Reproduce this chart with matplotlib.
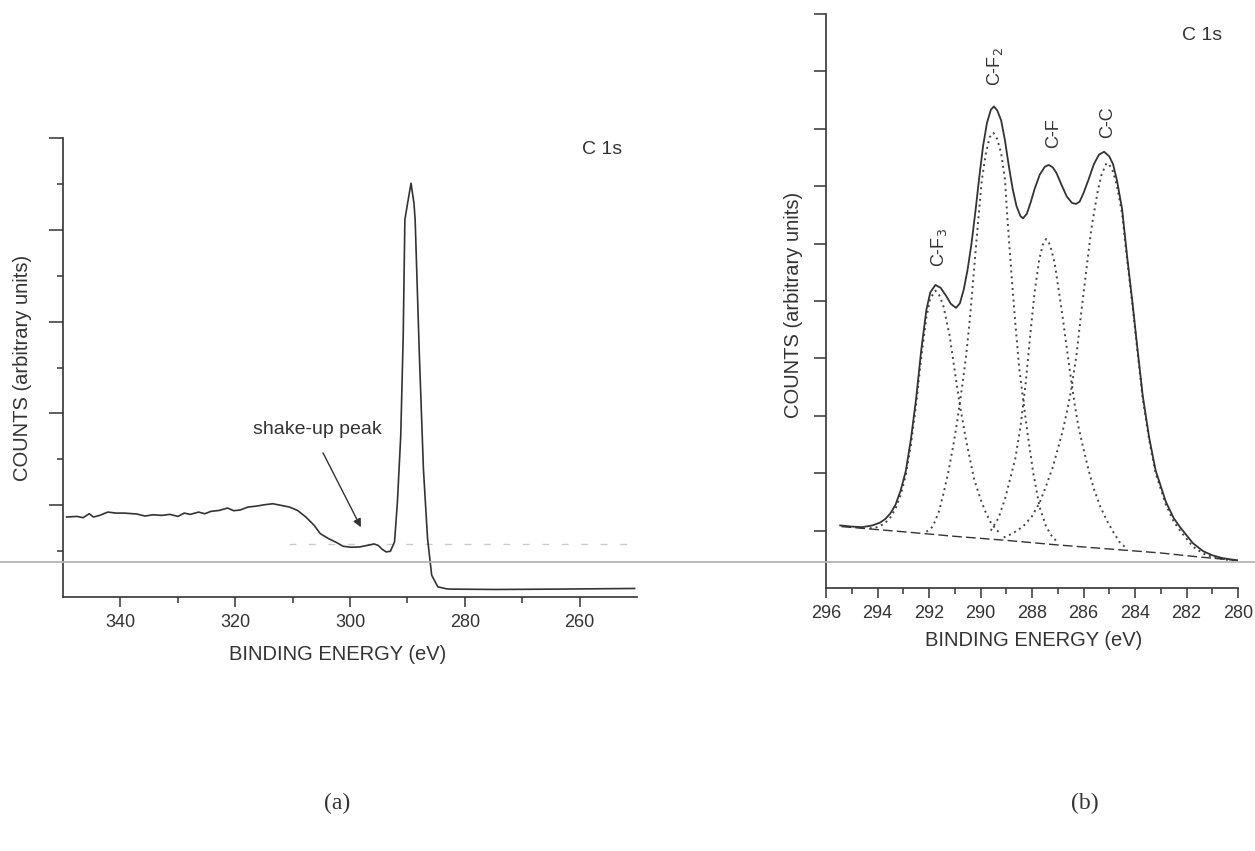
import matplotlib
matplotlib.use("Agg")
import matplotlib.pyplot as plt
from matplotlib.lines import Line2D

plt.rcParams['font.family'] = ['Liberation Sans', 'DejaVu Sans']

INK = '#333333'

# ---------------- (a) wide C 1s scan ----------------
survey_energy = [349.37, 347.57, 346.50, 345.42, 344.70, 343.62, 342.19, 340.75, 339.31,
                 337.15, 335.72, 334.28, 332.84, 331.40, 329.97, 328.89, 327.81, 326.38,
                 325.30, 324.22, 322.78, 321.35, 320.27, 319.19, 317.75, 316.31, 314.88,
                 313.44, 312.00, 310.57, 309.13, 307.69, 306.25, 305.18, 303.74, 302.30,
                 301.22, 299.79, 298.35, 296.91, 295.83, 295.11, 294.40, 293.68, 292.96,
                 292.24, 291.74, 291.16, 290.73, 290.44, 290.01, 289.37, 288.86, 288.65,
                 287.93, 287.21, 286.49, 285.77, 284.70, 283.25, 282.54, 274.63, 263.85,
                 250.41]
survey_counts = [0.871, 0.878, 0.864, 0.907, 0.871, 0.889, 0.925, 0.914, 0.914,
                 0.904, 0.882, 0.896, 0.889, 0.900, 0.878, 0.914, 0.900, 0.925,
                 0.907, 0.933, 0.943, 0.969, 0.940, 0.947, 0.980, 0.990, 1.005,
                 1.016, 0.998, 0.980, 0.943, 0.871, 0.781, 0.690, 0.636, 0.592,
                 0.553, 0.542, 0.545, 0.563, 0.578, 0.563, 0.520, 0.491, 0.498,
                 0.600, 1.034, 1.758, 2.843, 4.110, 4.273, 4.508, 4.291, 4.110,
                 2.663, 1.396, 0.636, 0.238, 0.111, 0.090, 0.086, 0.082, 0.086,
                 0.093]

# ---------------- (b) high-resolution C 1s with peak fit ----------------
env_energy = [295.45, 295.0, 294.6, 294.2, 293.9, 293.7, 293.5, 293.3, 293.1, 292.9,
              292.7, 292.5, 292.3, 292.1, 291.95, 291.75, 291.55, 291.35, 291.15, 290.95,
              290.8, 290.65, 290.5, 290.35, 290.2, 290.05, 289.9, 289.75, 289.6, 289.48,
              289.35, 289.2, 289.05, 288.9, 288.75, 288.6, 288.45, 288.35, 288.2, 288.05,
              287.9, 287.7, 287.5, 287.35, 287.2, 287.05, 286.85, 286.65, 286.45, 286.3,
              286.15, 286.0, 285.8, 285.6, 285.4, 285.2, 285.0, 284.85, 284.7, 284.5,
              284.3, 284.1, 283.9, 283.7, 283.45, 283.2, 282.8, 282.5, 282.25, 282.0,
              281.75, 281.35, 281.0, 280.6, 280.0]
env_counts = [1.09, 1.07, 1.06, 1.09, 1.14, 1.20, 1.30, 1.45, 1.70, 2.04,
              2.60, 3.30, 4.15, 4.85, 5.15, 5.28, 5.23, 5.10, 4.95, 4.88,
              4.96, 5.20, 5.55, 6.00, 6.55, 7.15, 7.70, 8.10, 8.33, 8.39,
              8.32, 8.15, 7.80, 7.35, 6.95, 6.65, 6.48, 6.44, 6.52, 6.72,
              6.95, 7.20, 7.34, 7.37, 7.33, 7.23, 7.02, 6.82, 6.71, 6.69,
              6.73, 6.88, 7.12, 7.38, 7.55, 7.60, 7.52, 7.38, 7.10, 6.60,
              5.75, 4.98, 4.15, 3.35, 2.62, 2.05, 1.50, 1.22, 1.06, 0.92,
              0.78, 0.64, 0.57, 0.52, 0.48]

bg_energy = [295.4, 293.0, 291.0, 289.0, 287.0, 285.0, 283.0, 281.5, 280.0]
bg_counts = [1.07, 0.98, 0.90, 0.83, 0.75, 0.68, 0.61, 0.54, 0.48]

cf3_energy = [294.3, 294.0, 293.7, 293.5, 293.3, 293.1, 292.9, 292.7, 292.5, 292.3,
              292.1, 291.95, 291.75, 291.6, 291.45, 291.2, 291.0, 290.8, 290.55, 290.25,
              290.0, 289.8, 289.6, 289.4, 289.2]
cf3_counts = [1.04, 1.06, 1.13, 1.23, 1.38, 1.62, 1.97, 2.50, 3.20, 4.02,
              4.72, 5.05, 5.18, 5.10, 4.93, 4.40, 3.78, 3.18, 2.55, 1.90,
              1.55, 1.32, 1.14, 1.02, 0.94]

cf2_energy = [292.1, 291.85, 291.6, 291.45, 291.25, 291.05, 290.9, 290.7, 290.55, 290.4,
              290.25, 290.1, 289.95, 289.8, 289.65, 289.5, 289.35, 289.2, 289.05, 288.95,
              288.8, 288.65, 288.5, 288.35, 288.15, 287.95, 287.7, 287.45, 287.2, 287.0]
cf2_counts = [0.98, 1.07, 1.35, 1.62, 2.02, 2.50, 2.92, 3.55, 4.08, 4.75,
              5.55, 6.35, 7.10, 7.55, 7.85, 7.93, 7.82, 7.58, 7.12, 6.41,
              5.48, 4.62, 3.85, 3.30, 2.62, 2.00, 1.40, 1.07, 0.88, 0.80]

cf_energy = [289.6, 289.3, 289.05, 288.85, 288.65, 288.45, 288.25, 288.07, 287.9, 287.72,
             287.58, 287.45, 287.3, 287.12, 287.0, 286.86, 286.7, 286.55, 286.35, 286.2,
             286.0, 285.8, 285.6, 285.35, 285.1, 284.85, 284.6, 284.4]
cf_counts = [1.00, 1.22, 1.55, 1.90, 2.25, 2.80, 3.55, 4.40, 5.15, 5.72,
             5.98, 6.08, 5.98, 5.66, 5.30, 4.88, 4.35, 3.85, 3.22, 2.82,
             2.42, 2.05, 1.73, 1.42, 1.18, 0.98, 0.80, 0.72]

cc_energy = [289.1, 288.75, 288.35, 288.0, 287.71, 287.45, 287.19, 287.0, 286.8, 286.63,
             286.48, 286.28, 286.09, 285.89, 285.70, 285.55, 285.44, 285.3, 285.11, 285.0,
             284.85, 284.7, 284.5, 284.3, 284.1, 283.9, 283.7, 283.45, 283.2, 282.8,
             282.5, 282.25, 282.0, 281.75, 281.35, 281.0, 280.6, 280.0]
cc_counts = [0.88, 0.95, 1.07, 1.25, 1.48, 1.78, 2.11, 2.42, 2.75, 3.10,
             3.45, 4.03, 4.79, 5.54, 6.24, 6.65, 6.93, 7.20, 7.40, 7.38,
             7.25, 7.00, 6.52, 5.70, 4.93, 4.10, 3.30, 2.58, 2.00, 1.45,
             1.16, 1.00, 0.86, 0.72, 0.60, 0.54, 0.50, 0.47]

peak_labels = [r'C-F$_3$', r'C-F$_2$', 'C-F', 'C-C']
peak_label_pos = [(291.6, 5.94), (289.42, 9.09), (287.16, 7.93), (285.06, 8.12)]

W, H = 1255, 851
fig = plt.figure(figsize=(W / 100, H / 100), dpi=100, facecolor='white')


def px_axes(left, top, right, bottom):
    return fig.add_axes([left / W, 1 - bottom / H, (right - left) / W, (bottom - top) / H])


def style_axes(ax):
    for side in ('top', 'right'):
        ax.spines[side].set_visible(False)
    for side in ('left', 'bottom'):
        ax.spines[side].set_color(INK)
        ax.spines[side].set_linewidth(1.2)
    ax.tick_params(which='both', direction='out', color=INK, width=1.1,
                   labelcolor=INK, labelsize=13)
    ax.patch.set_alpha(0)


# ---- panel (a)
ax1 = px_axes(63, 138, 637, 597)
style_axes(ax1)
ax1.plot(survey_energy, survey_counts, color=INK, lw=1.2)
ax1.set_xlim(350, 250)
ax1.set_ylim(0, 5)
ax1.set_xticks([340, 320, 300, 280, 260])
ax1.set_xticks([330, 310, 290, 270], minor=True)
ax1.set_yticks([1, 2, 3, 4, 5])
ax1.set_yticks([0.5, 1.5, 2.5, 3.5, 4.5], minor=True)
ax1.set_yticklabels([])
ax1.tick_params(axis='x', which='major', length=7, pad=5)
ax1.tick_params(axis='x', which='minor', length=4)
ax1.tick_params(axis='y', which='major', length=10)
ax1.tick_params(axis='y', which='minor', length=4)
ax1.set_xlabel('BINDING ENERGY (eV)', fontsize=14.5, color=INK)
ax1.xaxis.label.set_verticalalignment('center')
ax1.xaxis.set_label_coords(0.479, -0.126)
ax1.set_ylabel('COUNTS (arbitrary units)', fontsize=14.5, color=INK)
ax1.yaxis.label.set_verticalalignment('center')
ax1.yaxis.set_label_coords(-0.0714, 0.5)
ax1.text(256.0, 4.87, 'C 1s', fontsize=14, color=INK, ha='center', va='center')
ax1.text(305.7, 1.83, 'shake-up peak', fontsize=14, color=INK, ha='center', va='center')
ax1.annotate('', xy=(298.1, 0.76), xytext=(304.7, 1.57),
             arrowprops=dict(arrowstyle='-|>', color=INK, lw=1.0, mutation_scale=12,
                             shrinkA=0, shrinkB=0))
# faint dashed guide behind the spectrum
ax1.plot([310.6, 250.5], [0.58, 0.58], color='#cccccc', lw=1.0, ls=(0, (5, 9)), zorder=1)

# ---- panel (b)
ax2 = px_axes(826, 14, 1238, 588)
style_axes(ax2)
ax2.plot(bg_energy, bg_counts, color=INK, lw=1.0, ls=(0, (7, 3)))
for e, c in [(cf3_energy, cf3_counts), (cf2_energy, cf2_counts),
             (cf_energy, cf_counts), (cc_energy, cc_counts)]:
    ax2.plot(e, c, color='#444444', lw=1.4, ls=(0, (1, 2.0)))
ax2.plot(env_energy, env_counts, color=INK, lw=1.3)
ax2.set_xlim(296, 280)
ax2.set_ylim(0, 10)
ax2.set_xticks(list(range(296, 279, -2)))
ax2.set_xticks(list(range(295, 280, -2)), minor=True)
ax2.set_yticks(list(range(1, 11)))
ax2.set_yticklabels([])
ax2.tick_params(axis='x', which='major', length=7, pad=5)
ax2.tick_params(axis='x', which='minor', length=4)
ax2.tick_params(axis='y', which='major', length=9)
ax2.set_xlabel('BINDING ENERGY (eV)', fontsize=14.5, color=INK)
ax2.xaxis.label.set_verticalalignment('center')
ax2.xaxis.set_label_coords(0.505, -0.0906)
ax2.set_ylabel('COUNTS (arbitrary units)', fontsize=14.5, color=INK)
ax2.yaxis.label.set_verticalalignment('center')
ax2.yaxis.set_label_coords(-0.080, 0.493)
ax2.text(281.4, 9.63, 'C 1s', fontsize=14, color=INK, ha='center', va='center')
for lab, (x, y) in zip(peak_labels, peak_label_pos):
    ax2.text(x, y, lab, fontsize=13, color=INK, rotation=90, ha='center', va='center')

# long horizontal rule running across both panels
fig.add_artist(Line2D([0, 1], [1 - 562 / H] * 2, transform=fig.transFigure,
                      color='#b4b4b4', lw=1.3))

fig.text(337 / W, 1 - 803 / H, '(a)', fontsize=17, color=INK, ha='center', va='center',
         family=['Liberation Serif', 'DejaVu Serif'])
fig.text(1085 / W, 1 - 803 / H, '(b)', fontsize=17, color=INK, ha='center', va='center',
         family=['Liberation Serif', 'DejaVu Serif'])

fig.savefig('out.png', dpi=100, facecolor='white')
